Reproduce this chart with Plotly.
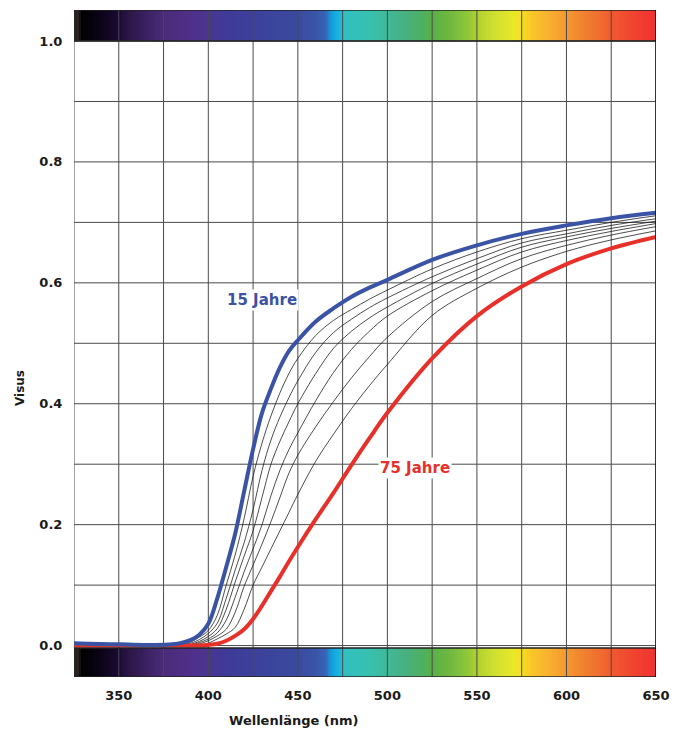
import plotly.graph_objects as go

# ---------------- data ----------------
X_TICKS = [350, 400, 450, 500, 550, 600, 650]
Y_TICKS = [0.0, 0.2, 0.4, 0.6, 0.8, 1.0]
X_GRID = [325, 350, 375, 400, 425, 450, 475, 500, 525, 550, 575, 600, 625, 650]
Y_GRID = [0.0, 0.1, 0.2, 0.3, 0.4, 0.5, 0.6, 0.7, 0.8, 0.9, 1.0]

WL = [325, 350, 380, 390, 395, 400, 405, 410, 415, 420, 425, 430, 435, 440, 445, 450,
      460, 470, 480, 490, 500, 525, 550, 575, 600, 625, 650]

blue_15 = [0.004, 0.002, 0.002, 0.009, 0.018, 0.036, 0.078, 0.13, 0.185, 0.255, 0.325, 0.385, 0.425, 0.46, 0.487, 0.505,
           0.536, 0.558, 0.577, 0.592, 0.605, 0.638, 0.662, 0.681, 0.695, 0.707, 0.716]
thin_1 = [0, 0, 0, 0.006, 0.014, 0.025, 0.05, 0.1, 0.15, 0.21, 0.28, 0.335, 0.38, 0.418, 0.45, 0.475,
          0.513, 0.538, 0.556, 0.573, 0.588, 0.623, 0.651, 0.673, 0.687, 0.700, 0.711]
thin_2 = [0, 0, 0, 0.004, 0.01, 0.02, 0.037, 0.078, 0.125, 0.17, 0.225, 0.29, 0.34, 0.378, 0.41, 0.438,
          0.485, 0.518, 0.54, 0.559, 0.575, 0.610, 0.640, 0.666, 0.681, 0.695, 0.706]
thin_3 = [0, 0, 0, 0.002, 0.007, 0.015, 0.028, 0.06, 0.105, 0.148, 0.19, 0.245, 0.3, 0.338, 0.37, 0.4,
          0.45, 0.492, 0.52, 0.542, 0.56, 0.599, 0.631, 0.659, 0.676, 0.690, 0.702]
thin_4 = [0, 0, 0, 0.001, 0.005, 0.011, 0.021, 0.042, 0.08, 0.122, 0.16, 0.2, 0.248, 0.29, 0.324, 0.352,
          0.405, 0.452, 0.49, 0.52, 0.545, 0.587, 0.621, 0.651, 0.670, 0.685, 0.698]
thin_5 = [0, 0, 0, 0, 0.003, 0.008, 0.016, 0.027, 0.055, 0.098, 0.133, 0.168, 0.205, 0.245, 0.285, 0.315,
          0.362, 0.404, 0.443, 0.478, 0.51, 0.569, 0.607, 0.640, 0.662, 0.679, 0.693]
thin_6 = [0, 0, 0, 0, 0, 0.004, 0.011, 0.019, 0.03, 0.06, 0.1, 0.13, 0.16, 0.19, 0.22, 0.25,
          0.305, 0.35, 0.392, 0.43, 0.465, 0.546, 0.591, 0.626, 0.652, 0.671, 0.686]
red_75 = [0, 0, 0, 0, 0, 0.001, 0.003, 0.008, 0.016, 0.027, 0.044, 0.066, 0.09, 0.114, 0.139, 0.163,
          0.209, 0.253, 0.299, 0.343, 0.385, 0.475, 0.545, 0.594, 0.631, 0.657, 0.676]

# spectrum colour stops (wavelength nm -> colour)
spec_nm = [325, 328, 329, 340, 350, 355, 365, 375, 390, 400, 410, 425, 450, 460, 466, 468, 470, 474, 476,
           490, 500, 510, 520, 525, 535, 545, 550, 560, 570, 575, 580, 590, 600, 610, 620, 625, 635, 650]
spec_col = ['#2a2220', '#2a2220', '#000000', '#0c0418', '#1a0a35', '#2a1545', '#3a2060', '#4a2a78', '#502f88',
            '#4a3592', '#3f3a98', '#3c409a', '#3a4a9e', '#3a55a8', '#3565b8', '#2090d0', '#10a8e0', '#20b8d8',
            '#30c0c0', '#38c0b0', '#40b898', '#48b080', '#50b060', '#58b048', '#70b840', '#90c838', '#b0d030',
            '#d0e030', '#e8e828', '#f5e020', '#f8c828', '#f8b030', '#f59830', '#f08030', '#f06a30', '#f05a30',
            '#f04830', '#f03030']

XMIN, XMAX = 325, 650
YMIN, YMAX = -0.052, 1.0513
TOPBAR = (1.0, YMAX)
BOTBAR = (-0.004, YMIN)

BLUE = '#3b53a4'
RED = '#e8302a'
FONT = 'DejaVu Sans'

# page geometry (browser body margin of 8 px is compensated)
OFF = 8
W, H = 680 - OFF, 731 - OFF
PL, PR, PT, PB = 74 - OFF, 24, 10 - OFF, 54
pw, ph = W - PL - PR, H - PT - PB


def paper_x(px):
    return (px - OFF - PL) / pw


def paper_y(py):
    return (H - PB - (py - OFF)) / ph


fig = go.Figure()

# spectrum bars
edges = list(range(XMIN, XMAX + 1))
centers = [e + 0.5 for e in edges[:-1]]
cscale = [[(n - XMIN) / (XMAX - XMIN), c] for n, c in zip(spec_nm, spec_col)]
for (y0, y1) in (TOPBAR, BOTBAR):
    fig.add_trace(go.Heatmap(x=edges, y=[min(y0, y1), max(y0, y1)], z=[centers],
                             colorscale=cscale, zmin=XMIN, zmax=XMAX, showscale=False,
                             hoverinfo='skip'))

# grid lines
gx, gy = [], []
for v in X_GRID:
    gx += [v, v, None]
    gy += [YMIN, YMAX, None]
fig.add_trace(go.Scatter(x=gx, y=gy, mode='lines', line=dict(color='#4a4a4a', width=1),
                         hoverinfo='skip', showlegend=False))
hx, hy = [], []
for v in Y_GRID:
    hx += [XMIN, XMAX, None]
    hy += [v, v, None]
fig.add_trace(go.Scatter(x=hx, y=hy, mode='lines', line=dict(color='#4a4a4a', width=1),
                         hoverinfo='skip', showlegend=False))

# thin curves
for v in (thin_1, thin_2, thin_3, thin_4, thin_5, thin_6):
    fig.add_trace(go.Scatter(x=WL, y=v, mode='lines',
                             line=dict(color='#111111', width=0.75, shape='spline', smoothing=1.0),
                             showlegend=False))

fig.add_trace(go.Scatter(x=WL, y=red_75, mode='lines',
                         line=dict(color=RED, width=4, shape='spline', smoothing=1.0), showlegend=False))
fig.add_trace(go.Scatter(x=WL, y=blue_15, mode='lines',
                         line=dict(color=BLUE, width=4, shape='spline', smoothing=1.0), showlegend=False))

# outlines of bars and right border
shapes = []
for (y0, y1) in (TOPBAR, BOTBAR):
    shapes.append(dict(type='rect', xref='x', yref='y', x0=XMIN, x1=XMAX, y0=y0, y1=y1,
                       line=dict(color='#222222', width=1.5), layer='above'))
shapes.append(dict(type='line', xref='x', yref='y', x0=XMAX, x1=XMAX, y0=YMIN, y1=YMAX,
                   line=dict(color='#111111', width=1.5), layer='above'))

annotations = [
    dict(x=430, y=0.572, xref='x', yref='y', text='<b>15 Jahre</b>', showarrow=False,
         font=dict(family=FONT, size=15, color=BLUE), bgcolor='white'),
    dict(x=515.5, y=0.294, xref='x', yref='y', text='<b>75 Jahre</b>', showarrow=False,
         font=dict(family=FONT, size=15, color=RED), bgcolor='white'),
    dict(x=paper_x(294), y=paper_y(720), xref='paper', yref='paper', xanchor='center', yanchor='middle',
         text='<b>Wellenlänge (nm)</b>', showarrow=False,
         font=dict(family=FONT, size=13, color='#1a1a1a')),
    dict(x=paper_x(20), y=paper_y(388), xref='paper', yref='paper', xanchor='center', yanchor='middle',
         text='<b>Visus</b>', showarrow=False, textangle=-90,
         font=dict(family=FONT, size=12, color='#1a1a1a')),
]

fig.update_layout(
    width=W, height=H,
    margin=dict(l=PL, r=PR, t=PT, b=PB),
    paper_bgcolor='white', plot_bgcolor='white',
    shapes=shapes, annotations=annotations,
    showlegend=False,
    xaxis=dict(range=[XMIN, XMAX], tickvals=X_TICKS, ticktext=[f'<b>{t}</b>' for t in X_TICKS],
               showgrid=False, zeroline=False, showline=False,
               ticks='outside', ticklen=6, tickcolor='rgba(0,0,0,0)',
               tickfont=dict(family=FONT, size=13, color='#1a1a1a')),
    yaxis=dict(range=[YMIN, YMAX], tickvals=Y_TICKS, ticktext=[f'<b>{t:.1f}</b>' for t in Y_TICKS],
               showgrid=False, zeroline=False, showline=False,
               ticks='outside', ticklen=8, tickcolor='rgba(0,0,0,0)',
               tickfont=dict(family=FONT, size=13, color='#1a1a1a')),
)

fig.write_html('out.html')
